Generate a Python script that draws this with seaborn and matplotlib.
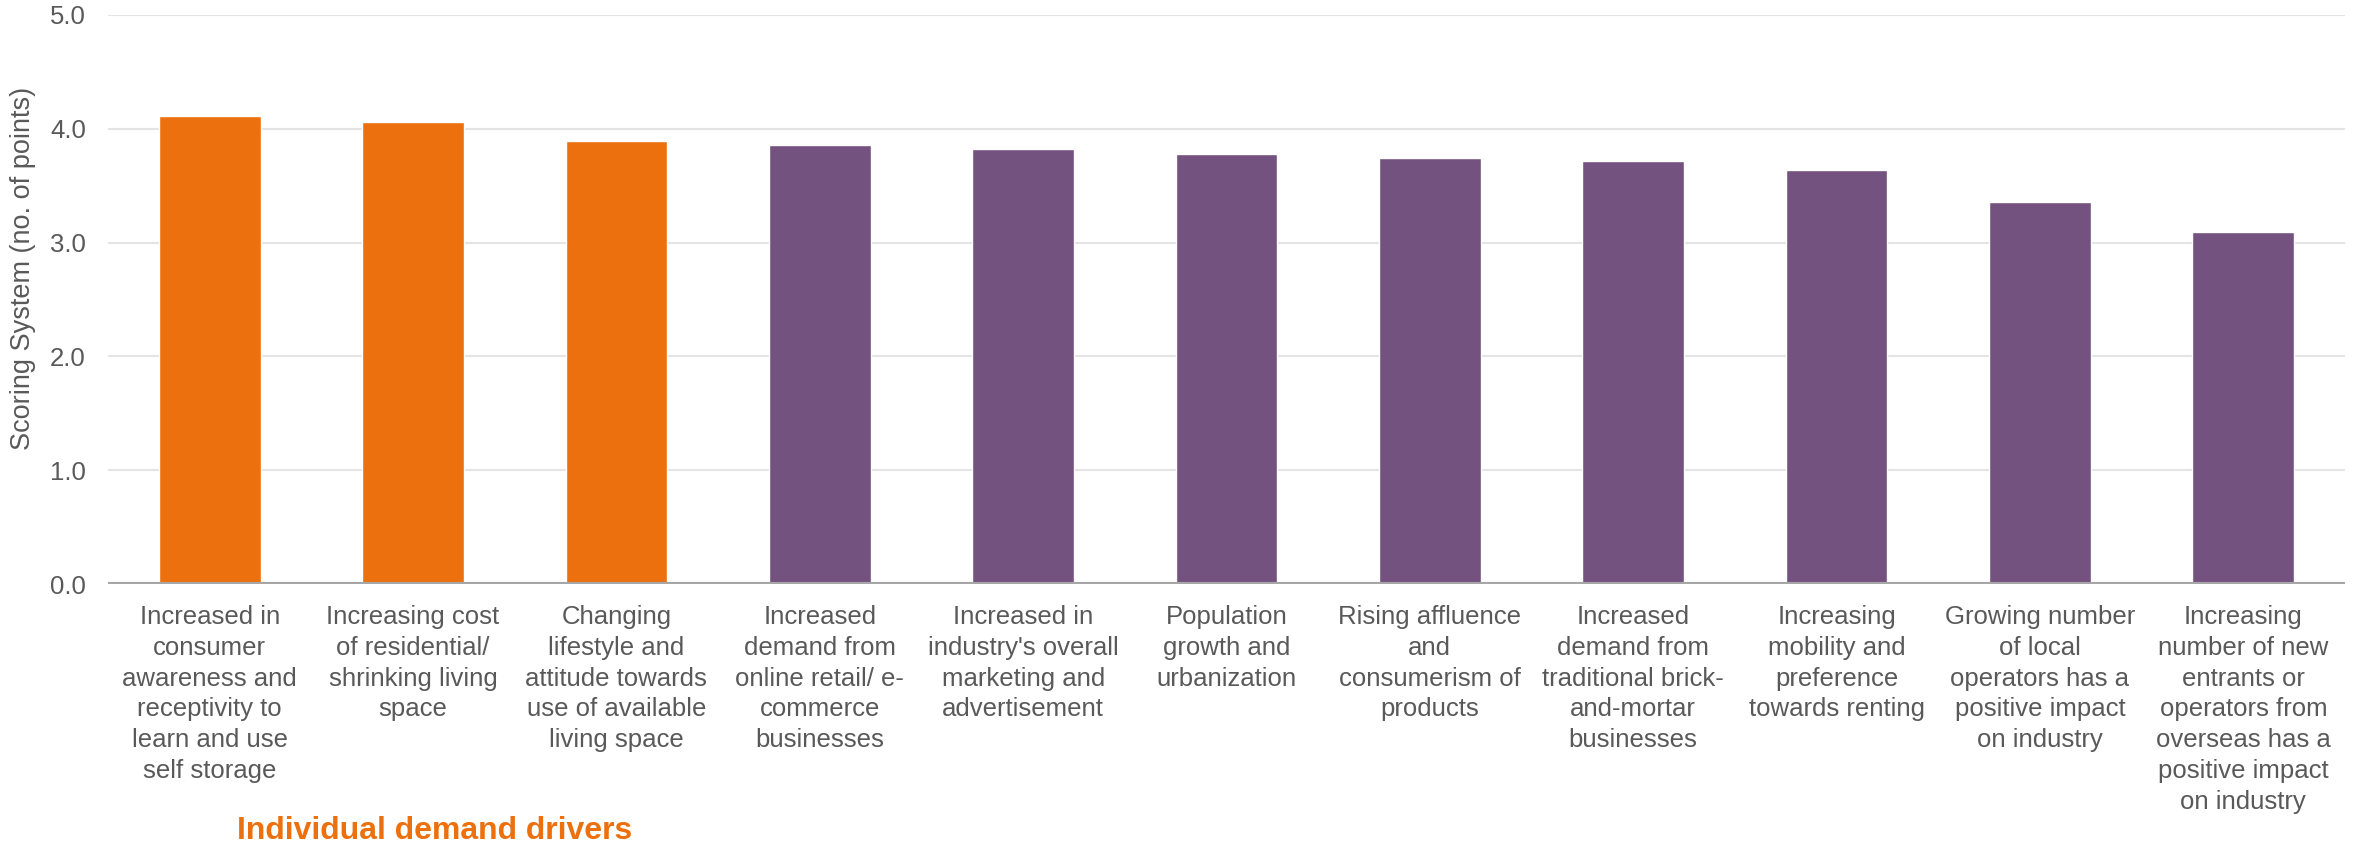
import matplotlib
matplotlib.use("Agg")
import matplotlib.pyplot as plt
import seaborn as sns
import pandas as pd

# Demand drivers, scores and driver group
drivers = [
    "Increased in\nconsumer\nawareness and\nreceptivity to\nlearn and use\nself storage",
    "Increasing cost\nof residential/\nshrinking living\nspace",
    "Changing\nlifestyle and\nattitude towards\nuse of available\nliving space",
    "Increased\ndemand from\nonline retail/ e-\ncommerce\nbusinesses",
    "Increased in\nindustry's overall\nmarketing and\nadvertisement",
    "Population\ngrowth and\nurbanization",
    "Rising affluence\nand\nconsumerism of\nproducts",
    "Increased\ndemand from\ntraditional brick-\nand-mortar\nbusinesses",
    "Increasing\nmobility and\npreference\ntowards renting",
    "Growing number\nof local\noperators has a\npositive impact\non industry",
    "Increasing\nnumber of new\nentrants or\noperators from\noverseas has a\npositive impact\non industry",
]
scores = [4.11, 4.06, 3.89, 3.86, 3.82, 3.78, 3.74, 3.72, 3.64, 3.36, 3.09]
groups = ["individual"] * 3 + ["other"] * 8

yticks = [0.0, 1.0, 2.0, 3.0, 4.0, 5.0]
ylabel = "Scoring System (no. of points)"
group_note = "Individual demand drivers"

ORANGE = "#EC700D"
PURPLE = "#74527F"
TEXT = "#595959"

sns.set_theme(style="white")
plt.rcParams["font.family"] = ["Liberation Sans", "DejaVu Sans"]

df = pd.DataFrame({"driver": drivers, "score": scores, "group": groups})

fig = plt.figure(figsize=(23.54, 8.48), dpi=100)
ax = fig.add_axes([108 / 2354, 1 - 584 / 848, (2345 - 108) / 2354, (584 - 15) / 848])

sns.barplot(
    data=df, x="driver", y="score", hue="group",
    palette={"individual": ORANGE, "other": PURPLE},
    dodge=False, width=0.5, legend=False, saturation=1, ax=ax, zorder=3,
)

ax.set_ylim(0, 5.0)
ax.set_xlim(-0.5, len(drivers) - 0.5)
ax.set_yticks(yticks)
ax.set_yticklabels([f"{t:.1f}" for t in yticks])
for t in yticks[1:]:
    ax.axhline(t, color="#E4E4E4", lw=1.5, zorder=1)
ax.axhline(0, color="#A6A6A6", lw=3, zorder=4)

for s in ax.spines.values():
    s.set_visible(False)
ax.tick_params(axis="both", length=0, labelsize=18.5, colors=TEXT)
ax.tick_params(axis="y", pad=16)
ax.tick_params(axis="x", pad=15)
for lbl in ax.get_xticklabels():
    lbl.set_linespacing(1.36)
    lbl.set_verticalalignment("top")
    lbl.set_horizontalalignment("center")

ax.set_xlabel("")
ax.set_ylabel(ylabel, fontsize=19.5, color=TEXT)
ax.yaxis.set_label_coords(-0.032, 0.554)

fig.text(435 / 2354, 1 - 831 / 848, group_note, color=ORANGE, fontsize=23,
         fontweight="bold", ha="center", va="center")

fig.savefig("out.png", dpi=100, facecolor="white")
